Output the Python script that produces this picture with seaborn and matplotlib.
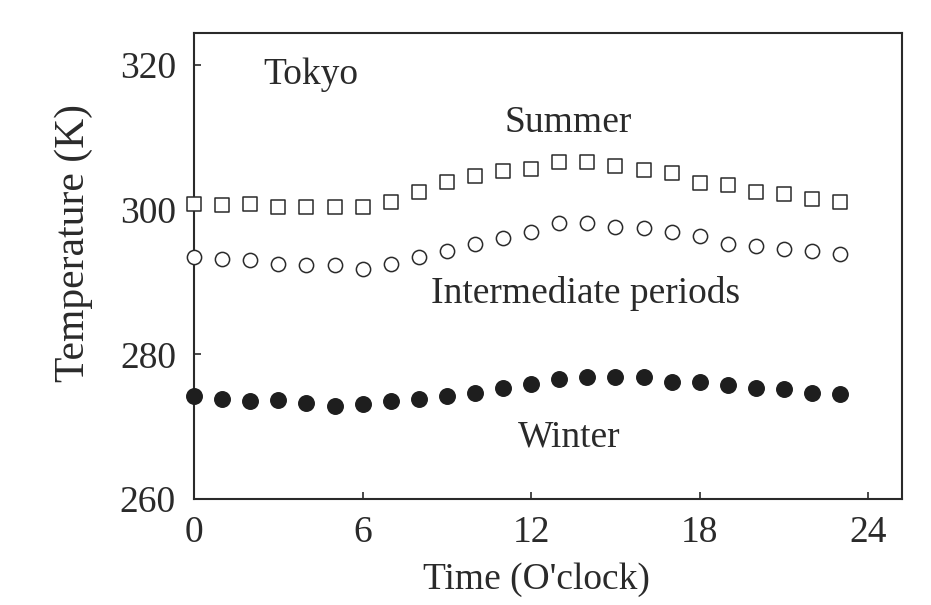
import matplotlib
matplotlib.use("Agg")
import matplotlib.pyplot as plt
import seaborn as sns
import pandas as pd

hours = list(range(24))
summer = [300.8, 300.6, 300.7, 300.4, 300.4, 300.4, 300.3, 301.1, 302.4, 303.8, 304.6, 305.3,
          305.6, 306.6, 306.6, 306.0, 305.4, 305.0, 303.7, 303.4, 302.4, 302.2, 301.5, 301.1]
intermediate = [293.4, 293.2, 293.0, 292.5, 292.3, 292.3, 291.8, 292.5, 293.4, 294.3, 295.3, 296.0,
                296.9, 298.2, 298.2, 297.6, 297.5, 296.9, 296.4, 295.3, 295.0, 294.6, 294.3, 293.9]
winter = [274.3, 273.8, 273.6, 273.7, 273.3, 272.9, 273.1, 273.5, 273.8, 274.3, 274.7, 275.4,
          275.9, 276.6, 276.8, 276.8, 276.8, 276.2, 276.2, 275.7, 275.4, 275.2, 274.7, 274.5]
x_ticks = [0, 6, 12, 18, 24]
y_ticks = [260, 280, 300, 320]

sns.set_theme(style="ticks")
plt.rcParams['font.family'] = ['Liberation Serif', 'DejaVu Serif']
ink = "#2a2a2a"
plt.rcParams.update({
    'axes.edgecolor': ink, 'axes.linewidth': 1.5,
    'xtick.color': ink, 'ytick.color': ink,
    'text.color': ink, 'axes.labelcolor': ink,
    'xtick.direction': 'in', 'ytick.direction': 'in',
    'xtick.major.size': 5, 'ytick.major.size': 5,
    'xtick.major.width': 1.2, 'ytick.major.width': 1.2,
})

fig = plt.figure(figsize=(9.31, 6.05), dpi=100)
ax = fig.add_axes([0.2084, 0.1752, 0.9689 - 0.2084, 0.9455 - 0.1752])

df_s = pd.DataFrame({"hour": hours, "T": summer})
df_i = pd.DataFrame({"hour": hours, "T": intermediate})
df_w = pd.DataFrame({"hour": hours, "T": winter})

sns.scatterplot(data=df_s, x="hour", y="T", ax=ax, marker="s", s=100,
                facecolor="white", edgecolor=ink, linewidth=1.1, clip_on=False, zorder=3)
sns.scatterplot(data=df_i, x="hour", y="T", ax=ax, marker="o", s=105,
                facecolor="white", edgecolor=ink, linewidth=1.1, clip_on=False, zorder=3)
sns.scatterplot(data=df_w, x="hour", y="T", ax=ax, marker="o", s=125,
                facecolor="#1e1e1e", edgecolor="#1e1e1e", linewidth=1.0, clip_on=False, zorder=3)

ax.set_xlim(0, 25.2)
ax.set_ylim(260, 324.4)
ax.set_xticks(x_ticks)
ax.set_yticks(y_ticks)
ax.tick_params(axis='y', labelsize=27, pad=13, right=False)
ax.tick_params(axis='x', labelsize=27, pad=12, top=False)
ax.set_xlabel("Time (O'clock)", fontsize=27)
ax.set_ylabel("Temperature (K)", fontsize=30)
ax.xaxis.set_label_coords(0.483, -0.137)
ax.yaxis.set_label_coords(-0.142, 0.55)
for sp in ax.spines.values():
    sp.set_visible(True)

txt = dict(fontsize=27, va='center')
ax.text(2.46, 318.6, "Tokyo", ha='left', **txt)
ax.text(13.3, 312.0, "Summer", ha='center', **txt)
ax.text(13.95, 288.4, "Intermediate periods", ha='center', **txt)
ax.text(13.35, 268.5, "Winter", ha='center', **txt)

fig.savefig("out.png", dpi=100)
